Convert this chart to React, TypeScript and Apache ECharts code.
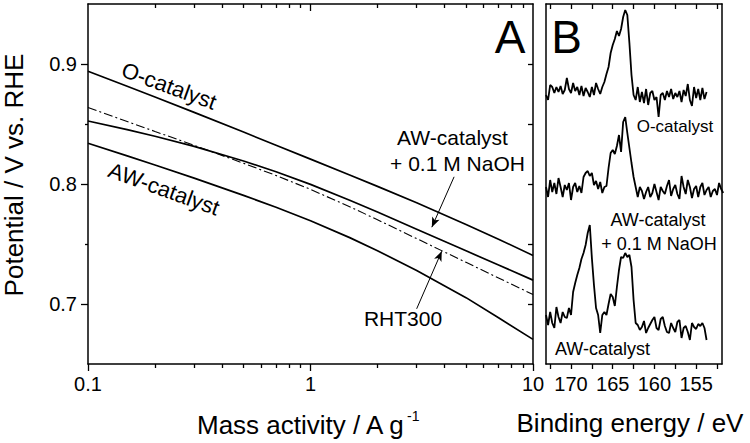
import React, { useEffect, useRef } from "react";
import * as echarts from "echarts";

// ---------- Panel A data (mass activity in A/g, potential in V vs RHE) ----------
const massActivity = [0.1, 0.15, 0.2, 0.3, 0.5, 0.7, 1, 1.5, 2, 3, 5, 7, 10];
const oCatalyst = [0.894, 0.8815, 0.8725, 0.8597, 0.8433, 0.8323, 0.8207, 0.8075, 0.798, 0.7843, 0.7663, 0.754, 0.7405];
const awNaOH = [0.8525, 0.8453, 0.8398, 0.8314, 0.8192, 0.8102, 0.7997, 0.7865, 0.7766, 0.7623, 0.7443, 0.7325, 0.7199];
const rht300 = [0.8637, 0.8521, 0.8438, 0.8322, 0.8173, 0.8071, 0.7955, 0.7811, 0.7702, 0.7545, 0.7347, 0.7217, 0.7079];
const awCatalyst = [0.834, 0.8234, 0.8158, 0.8049, 0.7905, 0.7806, 0.7694, 0.7553, 0.7444, 0.7279, 0.7053, 0.6885, 0.6705];

const majorTicksA = [0.1, 1, 10];
const minorTicksA = [0.2, 0.3, 0.4, 0.5, 0.6, 0.7, 0.8, 0.9, 2, 3, 4, 5, 6, 7, 8, 9];
const potentialLabels = [0.7, 0.8, 0.9];
const potentialMinor = [0.75, 0.85];
const potentialRight = [0.7, 0.75, 0.8, 0.85, 0.9];

// arrows: [from, to] in (mass activity, potential)
const arrowNaOH = [[4.42, 0.806], [3.51, 0.764]];
const arrowRHT = [[3.0, 0.696], [3.89, 0.744]];

// ---------- Panel B data (binding energy in eV, intensity a.u., offset) ----------
const beStart = 173.0;
const beStep = 0.25;
const xpsOCatalyst = [
  269, 264, 279, 277, 271, 277, 272, 278, 270, 274,
  286, 275, 271, 281, 273, 277, 269, 278, 268, 276,
  272, 267, 277, 269, 281, 275, 270, 277, 282, 290,
  297, 311, 319, 325, 333, 328, 335, 347, 354, 349,
  321, 289, 269, 264, 277, 262, 272, 261, 275, 259,
  271, 273, 264, 267, 247, 269, 271, 264, 273, 267,
  275, 265, 271, 267, 273, 262, 274, 268, 280, 264,
  258, 277, 266, 275, 264, 276, 265, 272,
];
const xpsAWNaOH = [
  177, 167, 184, 172, 181, 170, 186, 177, 167, 179,
  174, 181, 164, 177, 181, 172, 178, 171, 187, 191,
  193, 188, 191, 179, 183, 175, 182, 171, 177, 178,
  196, 211, 214, 210, 218, 229, 212, 242, 247, 231,
  216, 201, 187, 177, 167, 177, 173, 165, 172, 177,
  167, 171, 180, 172, 164, 177, 173, 170, 178, 184,
  168, 175, 179, 170, 165, 188, 177, 170, 184, 177,
  166, 175, 178, 167, 177, 181, 169, 174, 177, 167,
  173, 175, 169, 181, 175, 171,
];
const xpsAWCatalyst = [
  49, 39, 52, 41, 36, 57, 47, 41, 52, 47,
  46, 56, 49, 72, 81, 89, 96, 105, 111, 119,
  131, 139, 106, 79, 56, 49, 31, 49, 52, 49,
  60, 70, 67, 58, 77, 94, 107, 106, 111, 107,
  109, 97, 64, 41, 39, 34, 37, 43, 31, 36,
  40, 44, 47, 36, 34, 45, 47, 38, 32, 31,
  41, 36, 32, 42, 44, 26, 36, 38, 32, 24,
  41, 37, 35, 40, 38, 41, 36, 24,
];
const beTicks = [172.5, 170, 167.5, 165, 162.5, 160, 157.5, 155, 152.5];
const beLabels = [170, 165, 160, 155];

const FONT = "'Liberation Sans', Arial, Helvetica, sans-serif";
const BLACK = "#000";
const lg = (v: number) => Math.log10(v);

function fmtNum(v: number) {
  return String(Math.round(v * 1000) / 1000);
}

function lineA(name: string, ys: number[], dashed: boolean, arrow?: number[][]) {
  const s: any = {
    type: "line",
    name,
    xAxisIndex: 0,
    yAxisIndex: 0,
    data: massActivity.map((m, i) => [lg(m), ys[i]]),
    showSymbol: false,
    symbol: "none",
    smooth: false,
    lineStyle: { color: BLACK, width: dashed ? 1.1 : 1.7, type: dashed ? [9, 3, 2, 3] : "solid" },
    silent: true,
    z: 3,
  };
  if (arrow) {
    s.markLine = {
      silent: true,
      symbol: ["none", "arrow"],
      symbolSize: [6, 10],
      label: { show: false },
      lineStyle: { color: BLACK, width: 1, type: "solid" },
      data: [[
        { coord: [lg(arrow[0][0]), arrow[0][1]] },
        { coord: [lg(arrow[1][0]), arrow[1][1]] },
      ]],
    };
  }
  return s;
}

function spectrum(name: string, vals: number[]) {
  return {
    type: "line",
    name,
    xAxisIndex: 4,
    yAxisIndex: 3,
    data: vals.map((v, i) => [beStart - i * beStep, v]),
    showSymbol: false,
    symbol: "none",
    lineStyle: { color: BLACK, width: 1.8 },
    silent: true,
  };
}

const axisLineOn = { show: true, onZero: false, lineStyle: { color: BLACK, width: 1.5 } };
const axisLineOff = { show: false, onZero: false };
const tickStyle = { color: BLACK, width: 1.3 };

function T(text: string, x: number, y: number, size: number, rotDeg = 0, align = "center") {
  return {
    type: "text",
    x,
    y,
    rotation: (rotDeg * Math.PI) / 180,
    silent: true,
    style: {
      text,
      fill: BLACK,
      fontSize: size,
      fontFamily: FONT,
      align,
      verticalAlign: "middle",
    },
  };
}

export default function App() {
  const ref = useRef<HTMLDivElement>(null);

  useEffect(() => {
    document.body.style.margin = "0";
    if (!ref.current) return;
    const chart = echarts.init(ref.current, undefined, { renderer: "svg" });

    const labelStyle = { fontSize: 20, fontFamily: FONT, color: BLACK };

    const option: any = {
      animation: false,
      backgroundColor: "#fff",
      grid: [
        { left: 88, top: 4, width: 445, height: 360, outerBoundsMode: "none" },
        { left: 546, top: 4, width: 176, height: 360, outerBoundsMode: "none" },
      ],
      xAxis: [
        {
          type: "value", gridIndex: 0, min: -1, max: 1, position: "bottom",
          axisLine: axisLineOn,
          axisTick: { show: true, inside: false, length: 7, customValues: majorTicksA.map(lg), lineStyle: tickStyle },
          axisLabel: { ...labelStyle, margin: 10, customValues: majorTicksA.map(lg), formatter: (v: number) => fmtNum(Math.pow(10, v)) },
          splitLine: { show: false },
        },
        {
          type: "value", gridIndex: 0, min: -1, max: 1, position: "bottom",
          axisLine: axisLineOff,
          axisTick: { show: true, inside: false, length: 4, customValues: minorTicksA.map(lg), lineStyle: tickStyle },
          axisLabel: { show: false },
          splitLine: { show: false },
        },
        {
          type: "value", gridIndex: 0, min: -1, max: 1, position: "top",
          axisLine: axisLineOn,
          axisTick: { show: true, inside: true, length: 7, customValues: [lg(1)], lineStyle: tickStyle },
          axisLabel: { show: false },
          splitLine: { show: false },
        },
        {
          type: "value", gridIndex: 0, min: -1, max: 1, position: "top",
          axisLine: axisLineOff,
          axisTick: { show: true, inside: true, length: 4, customValues: minorTicksA.map(lg), lineStyle: tickStyle },
          axisLabel: { show: false },
          splitLine: { show: false },
        },
        {
          type: "value", gridIndex: 1, min: 151.9, max: 173, inverse: true, position: "bottom",
          axisLine: axisLineOn,
          axisTick: { show: true, inside: false, length: 5, customValues: beTicks, lineStyle: tickStyle },
          axisLabel: { ...labelStyle, margin: 10, customValues: beLabels, formatter: (v: number) => fmtNum(v) },
          splitLine: { show: false },
        },
        {
          type: "value", gridIndex: 1, min: 151.9, max: 173, inverse: true, position: "top",
          axisLine: axisLineOn,
          axisTick: { show: true, inside: true, length: 5, customValues: beTicks, lineStyle: tickStyle },
          axisLabel: { show: false },
          splitLine: { show: false },
        },
      ],
      yAxis: [
        {
          type: "value", gridIndex: 0, min: 0.65, max: 0.95, position: "left",
          axisLine: axisLineOn,
          axisTick: { show: true, inside: false, length: 7, customValues: potentialLabels, lineStyle: tickStyle },
          axisLabel: { ...labelStyle, margin: 11, customValues: potentialLabels, formatter: (v: number) => v.toFixed(1) },
          splitLine: { show: false },
        },
        {
          type: "value", gridIndex: 0, min: 0.65, max: 0.95, position: "left",
          axisLine: axisLineOff,
          axisTick: { show: true, inside: false, length: 3, customValues: potentialMinor, lineStyle: tickStyle },
          axisLabel: { show: false },
          splitLine: { show: false },
        },
        {
          type: "value", gridIndex: 0, min: 0.65, max: 0.95, position: "right",
          axisLine: axisLineOn,
          axisTick: { show: true, inside: true, length: 5, customValues: potentialRight, lineStyle: tickStyle },
          axisLabel: { show: false },
          splitLine: { show: false },
        },
        {
          type: "value", gridIndex: 1, min: 0, max: 360, position: "left",
          axisLine: axisLineOn,
          axisTick: { show: false },
          axisLabel: { show: false },
          splitLine: { show: false },
        },
        {
          type: "value", gridIndex: 1, min: 0, max: 360, position: "right",
          axisLine: axisLineOn,
          axisTick: { show: false },
          axisLabel: { show: false },
          splitLine: { show: false },
        },
      ],
      series: [
        lineA("O-catalyst", oCatalyst, false),
        lineA("AW-catalyst + 0.1 M NaOH", awNaOH, false, arrowNaOH),
        lineA("RHT300", rht300, true, arrowRHT),
        lineA("AW-catalyst", awCatalyst, false),
        spectrum("O-catalyst XPS", xpsOCatalyst),
        spectrum("AW-catalyst + NaOH XPS", xpsAWNaOH),
        spectrum("AW-catalyst XPS", xpsAWCatalyst),
      ],
      graphic: [
        T("Potential / V vs. RHE", 14, 175, 26, 90),
        T("Mass activity / A g", 197, 425, 26, 0, "left"),
        T("-1", 407, 416, 14, 0, "left"),
        T("Binding energy / eV", 630, 423, 26),
        T("A", 510, 37, 46),
        T("B", 566.5, 37, 46),
        T("O-catalyst", 169, 86, 22, -20),
        T("AW-catalyst", 164, 189, 22, -20),
        T("AW-catalyst", 452.5, 137, 21),
        T("+ 0.1 M NaOH", 457.5, 163, 21),
        T("RHT300", 403, 318, 21),
        T("O-catalyst", 675, 126, 17),
        T("AW-catalyst", 658, 220, 18),
        T("+ 0.1 M NaOH", 659, 244, 18),
        T("AW-catalyst", 602.5, 349, 18),
      ],
    };

    chart.setOption(option);
    return () => chart.dispose();
  }, []);

  return (
    <div
      ref={ref}
      style={{ position: "fixed", left: 0, top: 0, width: 750, height: 443, background: "#fff" }}
    />
  );
}
